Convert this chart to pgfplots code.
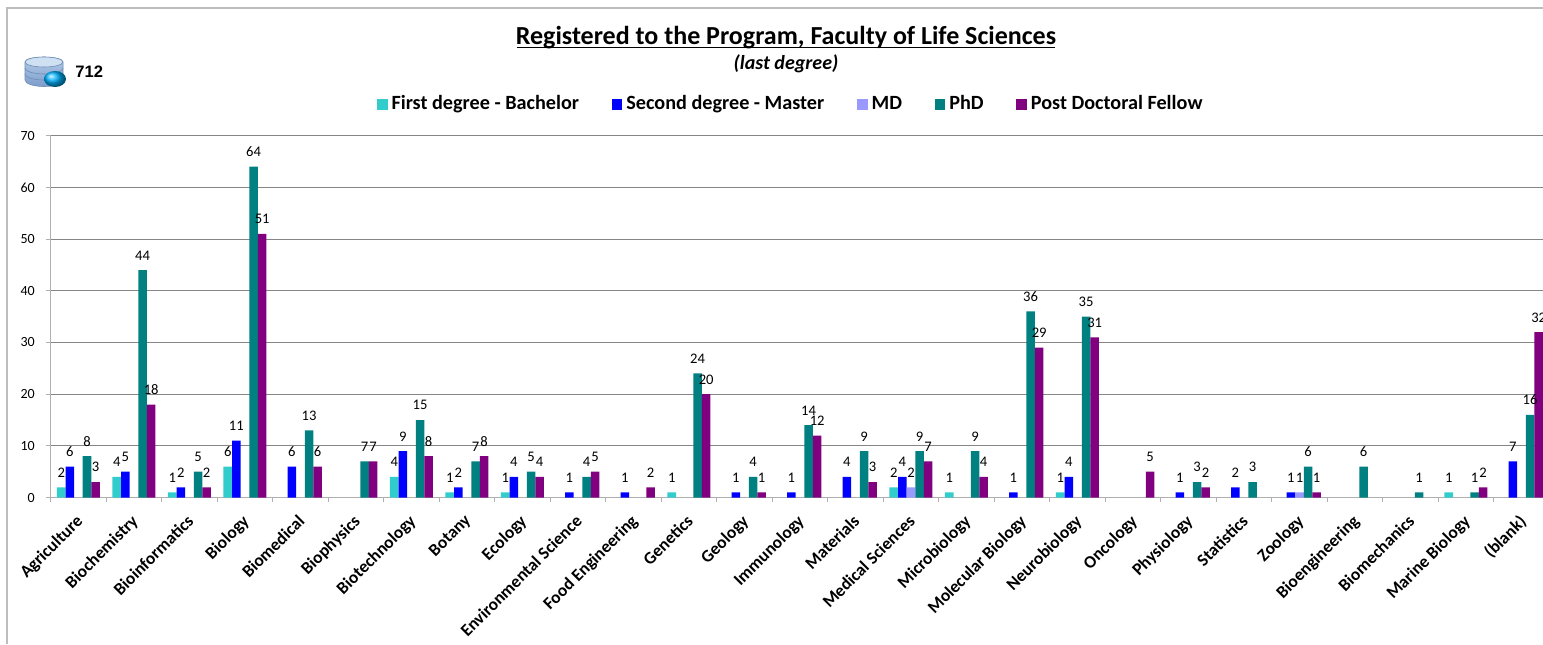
\documentclass[border=0pt]{standalone}
\usepackage{fontspec}
\setmainfont{Carlito}
\newfontfamily\arialfont{Liberation Sans}
\usepackage{pgfplots}
\usepackage{pgfplotstable}
\pgfplotsset{compat=1.18}
\definecolor{first}{HTML}{33CCCC}
\definecolor{second}{HTML}{0000FF}
\definecolor{md}{HTML}{9999FF}
\definecolor{phd}{HTML}{008080}
\definecolor{postdoc}{HTML}{800080}
\definecolor{gridgray}{HTML}{868686}
\definecolor{framegray}{HTML}{BDBDBD}
\definecolor{axisgray}{HTML}{B0B0B0}
\definecolor{dbtop}{HTML}{CFE0F2}
\definecolor{dbhigh}{HTML}{B5CDE8}
\definecolor{dblow}{HTML}{7C9CCB}
\definecolor{dbedge}{HTML}{6D8DB5}

% first degree, second degree, MD, PhD, post doc per field
\pgfplotstableread{
id first second md phd post
0 2 6 nan 8 3
1 4 5 nan 44 18
2 1 2 nan 5 2
3 6 11 nan 64 51
4 nan 6 nan 13 6
5 nan nan nan 7 7
6 4 9 nan 15 8
7 1 2 nan 7 8
8 1 4 nan 5 4
9 nan 1 nan 4 5
10 nan 1 nan nan 2
11 1 nan nan 24 20
12 nan 1 nan 4 1
13 nan 1 nan 14 12
14 nan 4 nan 9 3
15 2 4 2 9 7
16 1 nan nan 9 4
17 nan 1 nan 36 29
18 1 4 nan 35 31
19 nan nan nan nan 5
20 nan 1 nan 3 2
21 nan 2 nan 3 nan
22 nan 1 1 6 1
23 nan nan nan 6 nan
24 nan nan nan 1 nan
25 1 nan nan 1 2
26 nan 7 nan 16 32
}\fieldtable

\begin{document}
\begin{tikzpicture}[x=0.5pt,y=0.5pt]
\path[use as bounding box] (0,0) rectangle (1543,644);
\draw[framegray,line width=0.8pt] (7,0) -- (7,636) -- (1543,636);

\begin{axis}[
  at={(25.35pt,73.2pt)},anchor=south west,
  scale only axis,
  width=746.15pt,height=181pt,
  ybar=0pt,bar width=4.3pt,
  xmin=-0.5,xmax=26.388,ymin=0,ymax=70,
  ytick={0,10,...,70},
  xtick={0,...,26},
  xticklabels={Agriculture,Biochemistry,Bioinformatics,Biology,Biomedical,Biophysics,Biotechnology,Botany,Ecology,Environmental Science,Food Engineering,Genetics,Geology,Immunology,Materials,Medical Sciences,Microbiology,Molecular Biology,Neurobiology,Oncology,Physiology,Statistics,Zoology,Bioengineering,Biomechanics,Marine Biology,(blank)},
  minor xtick={-0.5,0.5,...,26.5},
  axis x line*=bottom,axis y line*=left,
  axis line style={axisgray,line width=0.8pt,-},
  tick align=outside,
  major tick length=2.4pt,minor tick length=2.4pt,
  every major x tick/.append style={draw=none},
  every minor x tick/.append style={draw=axisgray,line width=0.5pt},
  ytick style={draw=axisgray,line width=0.5pt},
  ymajorgrids,
  grid style={gridgray,line width=0.5pt},
  /pgf/number format/assume math mode=true,
  yticklabel style={font=\fontsize{7}{8}\selectfont,xshift=-2pt},
  xticklabel style={font=\fontsize{8.7}{10}\selectfont\bfseries,rotate=45,anchor=north east,inner sep=0pt,xshift=-5pt,yshift=-2.5pt},
  nodes near coords,
  every node near coord/.append style={font=\fontsize{7.3}{8}\selectfont,inner sep=0pt,anchor=south,yshift=4.8pt,text=black},
  legend columns=5,
  legend style={at={(0.4965,1.087)},anchor=center,draw=none,fill=none,
    font=\fontsize{10.1}{12}\selectfont\bfseries,inner sep=0pt,
    /tikz/every even column/.append style={column sep=14.25pt}},
  legend cell align=left,
  legend image code/.code={\fill[#1] (0pt,-2.7pt) rectangle (5.4pt,2.7pt);},
]
\addplot[draw=none,fill=first] table[x=id,y=first] {\fieldtable};
\addplot[draw=none,fill=second] table[x=id,y=second] {\fieldtable};
\addplot[draw=none,fill=md] table[x=id,y=md] {\fieldtable};
\addplot[draw=none,fill=phd] table[x=id,y=phd] {\fieldtable};
\addplot[draw=none,fill=postdoc] table[x=id,y=post] {\fieldtable};
\legend{First degree - Bachelor,Second degree - Master,MD,PhD,Post Doctoral Fellow}
\end{axis}

\node[font=\fontsize{13}{15}\selectfont\bfseries,anchor=base,inner sep=0pt] at (786,599.7) {Registered to the Program, Faculty of Life Sciences};
\draw[black,line width=0.8pt] (517,596.3) -- (1055,596.3);
\node[font=\fontsize{10}{12}\selectfont\bfseries\itshape,anchor=base,inner sep=0pt] at (786,574) {(last degree)};
\node[font=\arialfont\fontsize{8.3}{10}\selectfont\bfseries,anchor=west,inner sep=0pt] at (75,572) {712};

% database icon
\shade[top color=dbhigh,bottom color=dblow,draw=dbedge,line width=0.3pt]
  (25,582) -- (25,564) arc[start angle=180,end angle=360,x radius=19,y radius=6.5] -- (63,582) arc[start angle=0,end angle=180,x radius=19,y radius=5] -- cycle;
\draw[dbedge,line width=0.3pt] (25,576) arc[start angle=180,end angle=360,x radius=19,y radius=6];
\draw[dbedge,line width=0.3pt] (25,570) arc[start angle=180,end angle=360,x radius=19,y radius=6];
\filldraw[fill=dbtop,draw=dbedge,line width=0.3pt] (44,582) ellipse[x radius=19,y radius=5];
\shade[ball color=cyan!70!blue,draw=none] (55,565) ellipse[x radius=11,y radius=8];
\end{tikzpicture}
\end{document}
